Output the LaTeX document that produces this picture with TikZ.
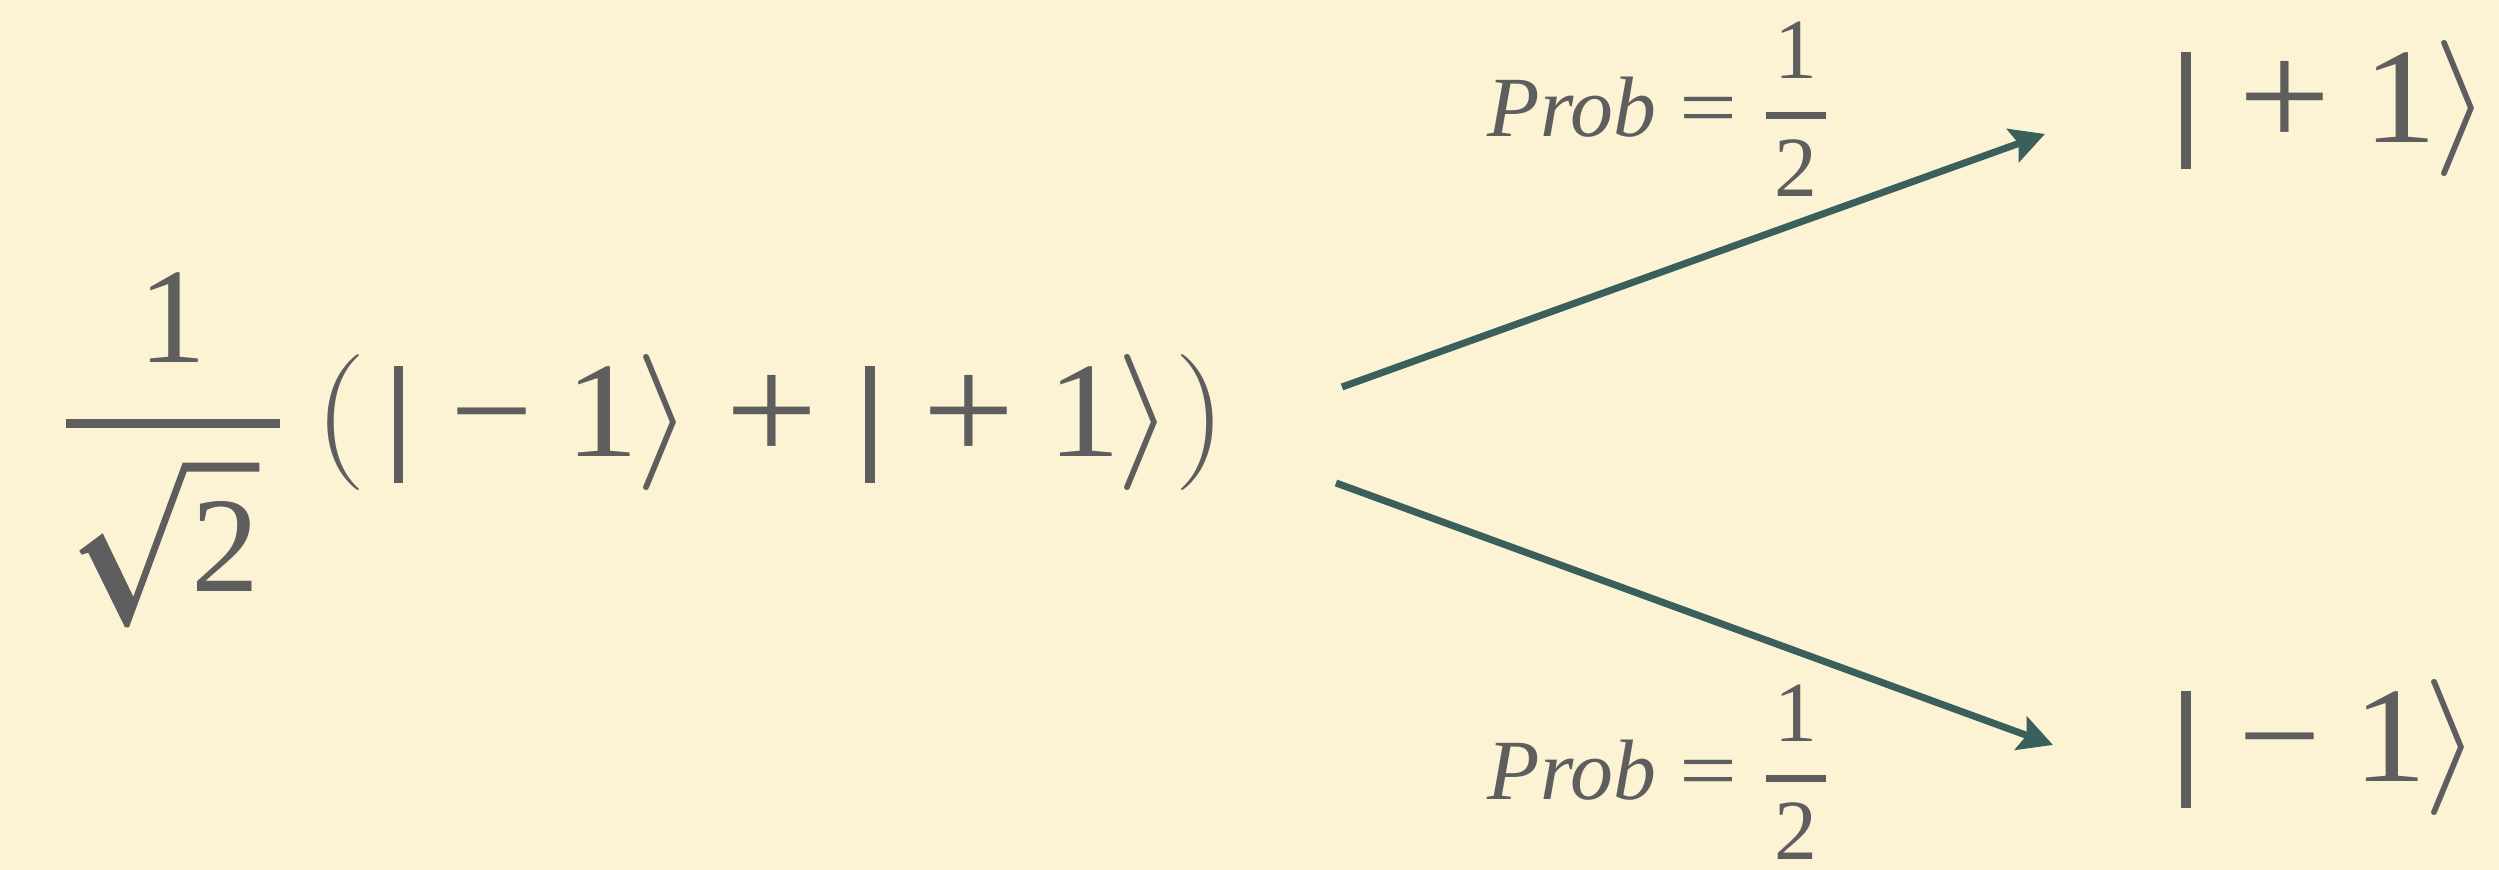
\RequirePackage{fix-cm}
\documentclass[tikz,border=0pt]{standalone}
\usepackage{graphicx}
\usepackage{fontspec}
\setmainfont{Liberation Serif}
\usetikzlibrary{arrows.meta}
\definecolor{paper}{HTML}{FBF3D4}
\definecolor{ink}{HTML}{5E5E5E}
\definecolor{branch}{HTML}{3A5F5C}
\newcommand{\ketsize}{\fontsize{38.7}{46}\selectfont}
\newcommand{\probsize}{\fontsize{24.4}{29}\selectfont}
\newcommand{\wide}[1]{\scalebox{1.08}[1]{#1}}
\newcommand{\bplus}{\mathbin{\raisebox{-.035em}{\scalebox{1.12}{+}}}}
\newcommand{\bminus}{\mathbin{\mbox{−}}}
\newcommand{\one}{\mbox{1}}
\newcommand{\vbar}{\mathord{\kern.1em\rule[-.19em]{.065em}{.86em}\kern.1em}}
\newcommand{\kend}{\mkern-0.5mu\rangle}
\newcommand{\probhalf}{$\displaystyle\mbox{\itshape Prob}\mathrel{\scalebox{1.2}[1]{=}}
    {\mbox{\kern.1em 1\kern.1em}\above 2pt\mbox{2}}$}

\begin{document}
\begin{tikzpicture}[every node/.style={text=ink,inner sep=0pt,anchor=base west},
    state/.style={font=\ketsize},
    prob/.style={font=\probsize},
    outcome/.style={draw=branch,line width=2pt,
        -{Stealth[length=3.4mm,width=3.5mm,inset=0.6mm]}}]
    \fill[paper] (0,0) rectangle (24.99,8.70);
    \useasboundingbox (0,0) rectangle (24.99,8.70);
    % 1/sqrt(2) drawn by hand
    \node[state,anchor=base] (num) at (1.73,5.07) {1};
    \node[state,anchor=base] (den) at (2.26,2.78) {2};
    \fill[ink] (0.66,4.51) rectangle (2.80,4.42);
    \fill[ink] (0.793,3.193) -- (1.027,3.367) -- (1.333,2.733) -- (1.827,4.073)
        -- (2.593,4.073) -- (2.593,3.983) -- (1.867,3.983) -- (1.29,2.427)
        -- (1.25,2.427) -- (0.883,3.173) -- (0.817,3.153) -- cycle;
    % superposition on the left, outcomes on the right
    \node[state] (super) at (3.14,4.13)
        {\wide{$\big(\mkern1.5mu\vbar\bminus\one\kend\bplus\vbar\bplus\one\kend\big)$}};
    \node[state] (up) at (21.66,7.27) {\wide{$\vbar\bplus\one\kend$}};
    \node[state] (down) at (21.66,0.88) {\wide{$\vbar\bminus\one\kend$}};
    \node[prob] (pup) at (14.87,7.33) {\probhalf};
    \node[prob] (pdown) at (14.87,0.70) {\probhalf};
    \coordinate (up-from) at (13.42,4.83);
    \coordinate (up-to) at (20.45,7.36);
    \coordinate (down-from) at (13.36,3.87);
    \coordinate (down-to) at (20.53,1.25);
    \draw[outcome] (up-from) -- (up-to);
    \draw[outcome] (down-from) -- (down-to);
\end{tikzpicture}
\end{document}
